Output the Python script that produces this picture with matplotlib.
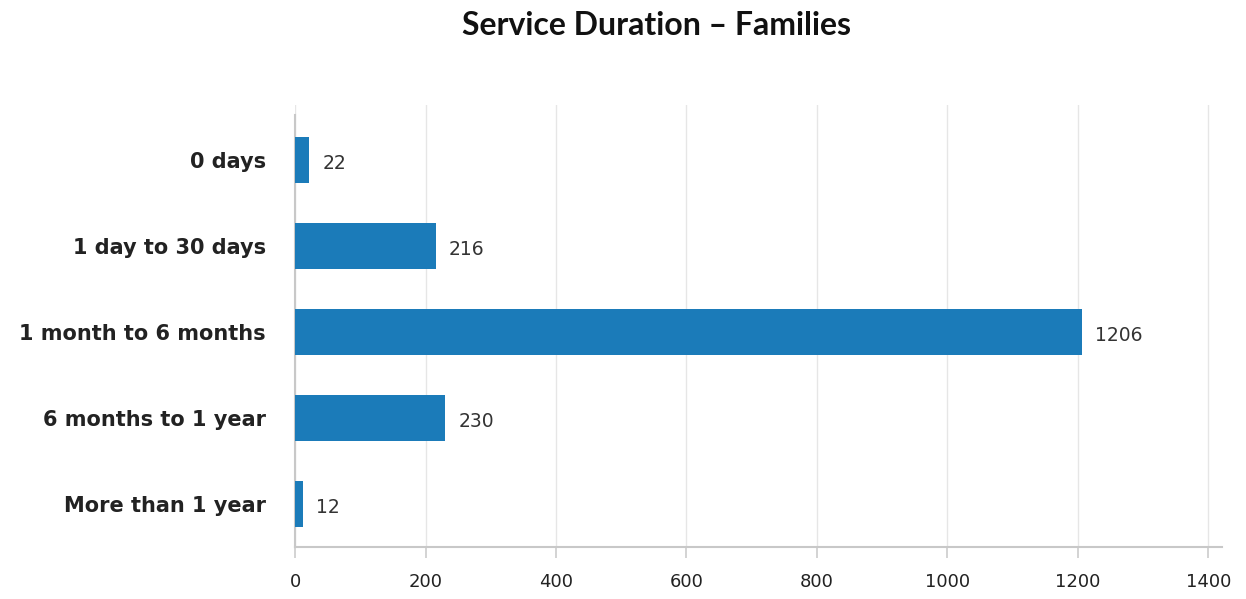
import matplotlib.pyplot as plt

categories = ['0 days', '1 day to 30 days', '1 month to 6 months',
              '6 months to 1 year', 'More than 1 year']
values = [22, 216, 1206, 230, 12]
x_ticks = [0, 200, 400, 600, 800, 1000, 1200, 1400]

plt.rcParams['font.family'] = ['DejaVu Sans']

fig = plt.figure(figsize=(12.46, 5.99), dpi=100)
ax = fig.add_axes([0.2368, 0.0868, 0.744, 0.738])

ypos = list(range(len(categories)))
ax.barh(ypos, values, height=0.54, color='#1b7bb9', zorder=3)

# value labels next to each bar
for y, v in zip(ypos, values):
    ax.text(v + 20, y + 0.04, str(v), va='center', ha='left',
            fontsize=13.5, color='#333333')

ax.set_yticks(ypos)
ax.set_yticklabels(categories, fontsize=15, fontweight='bold', color='#222222')
ax.set_ylim(4.5, -0.64)
ax.set_xlim(0, 1421)
ax.set_xticks(x_ticks)
ax.set_xticklabels([str(t) for t in x_ticks], fontsize=13, color='#222222')

ax.tick_params(axis='y', length=0, pad=21)
ax.tick_params(axis='x', length=8, color='#cccccc', width=1.2, pad=11)

ax.grid(axis='x', color='#e6e6e6', linewidth=1, zorder=0)
for s in ['top', 'right']:
    ax.spines[s].set_visible(False)
ax.spines['bottom'].set_color('#c8c8c8')
ax.spines['bottom'].set_linewidth(1.5)
ax.spines['left'].set_color('#c8c8c8')
ax.spines['left'].set_linewidth(1.5)
ax.spines['left'].set_bounds(-0.52, 4.5)

fig.text(0.527, 0.958, 'Service Duration – Families', ha='center', va='center',
         fontsize=23, fontweight='bold', color='#111111', family='Lato')

fig.savefig('out.png', dpi=100)
